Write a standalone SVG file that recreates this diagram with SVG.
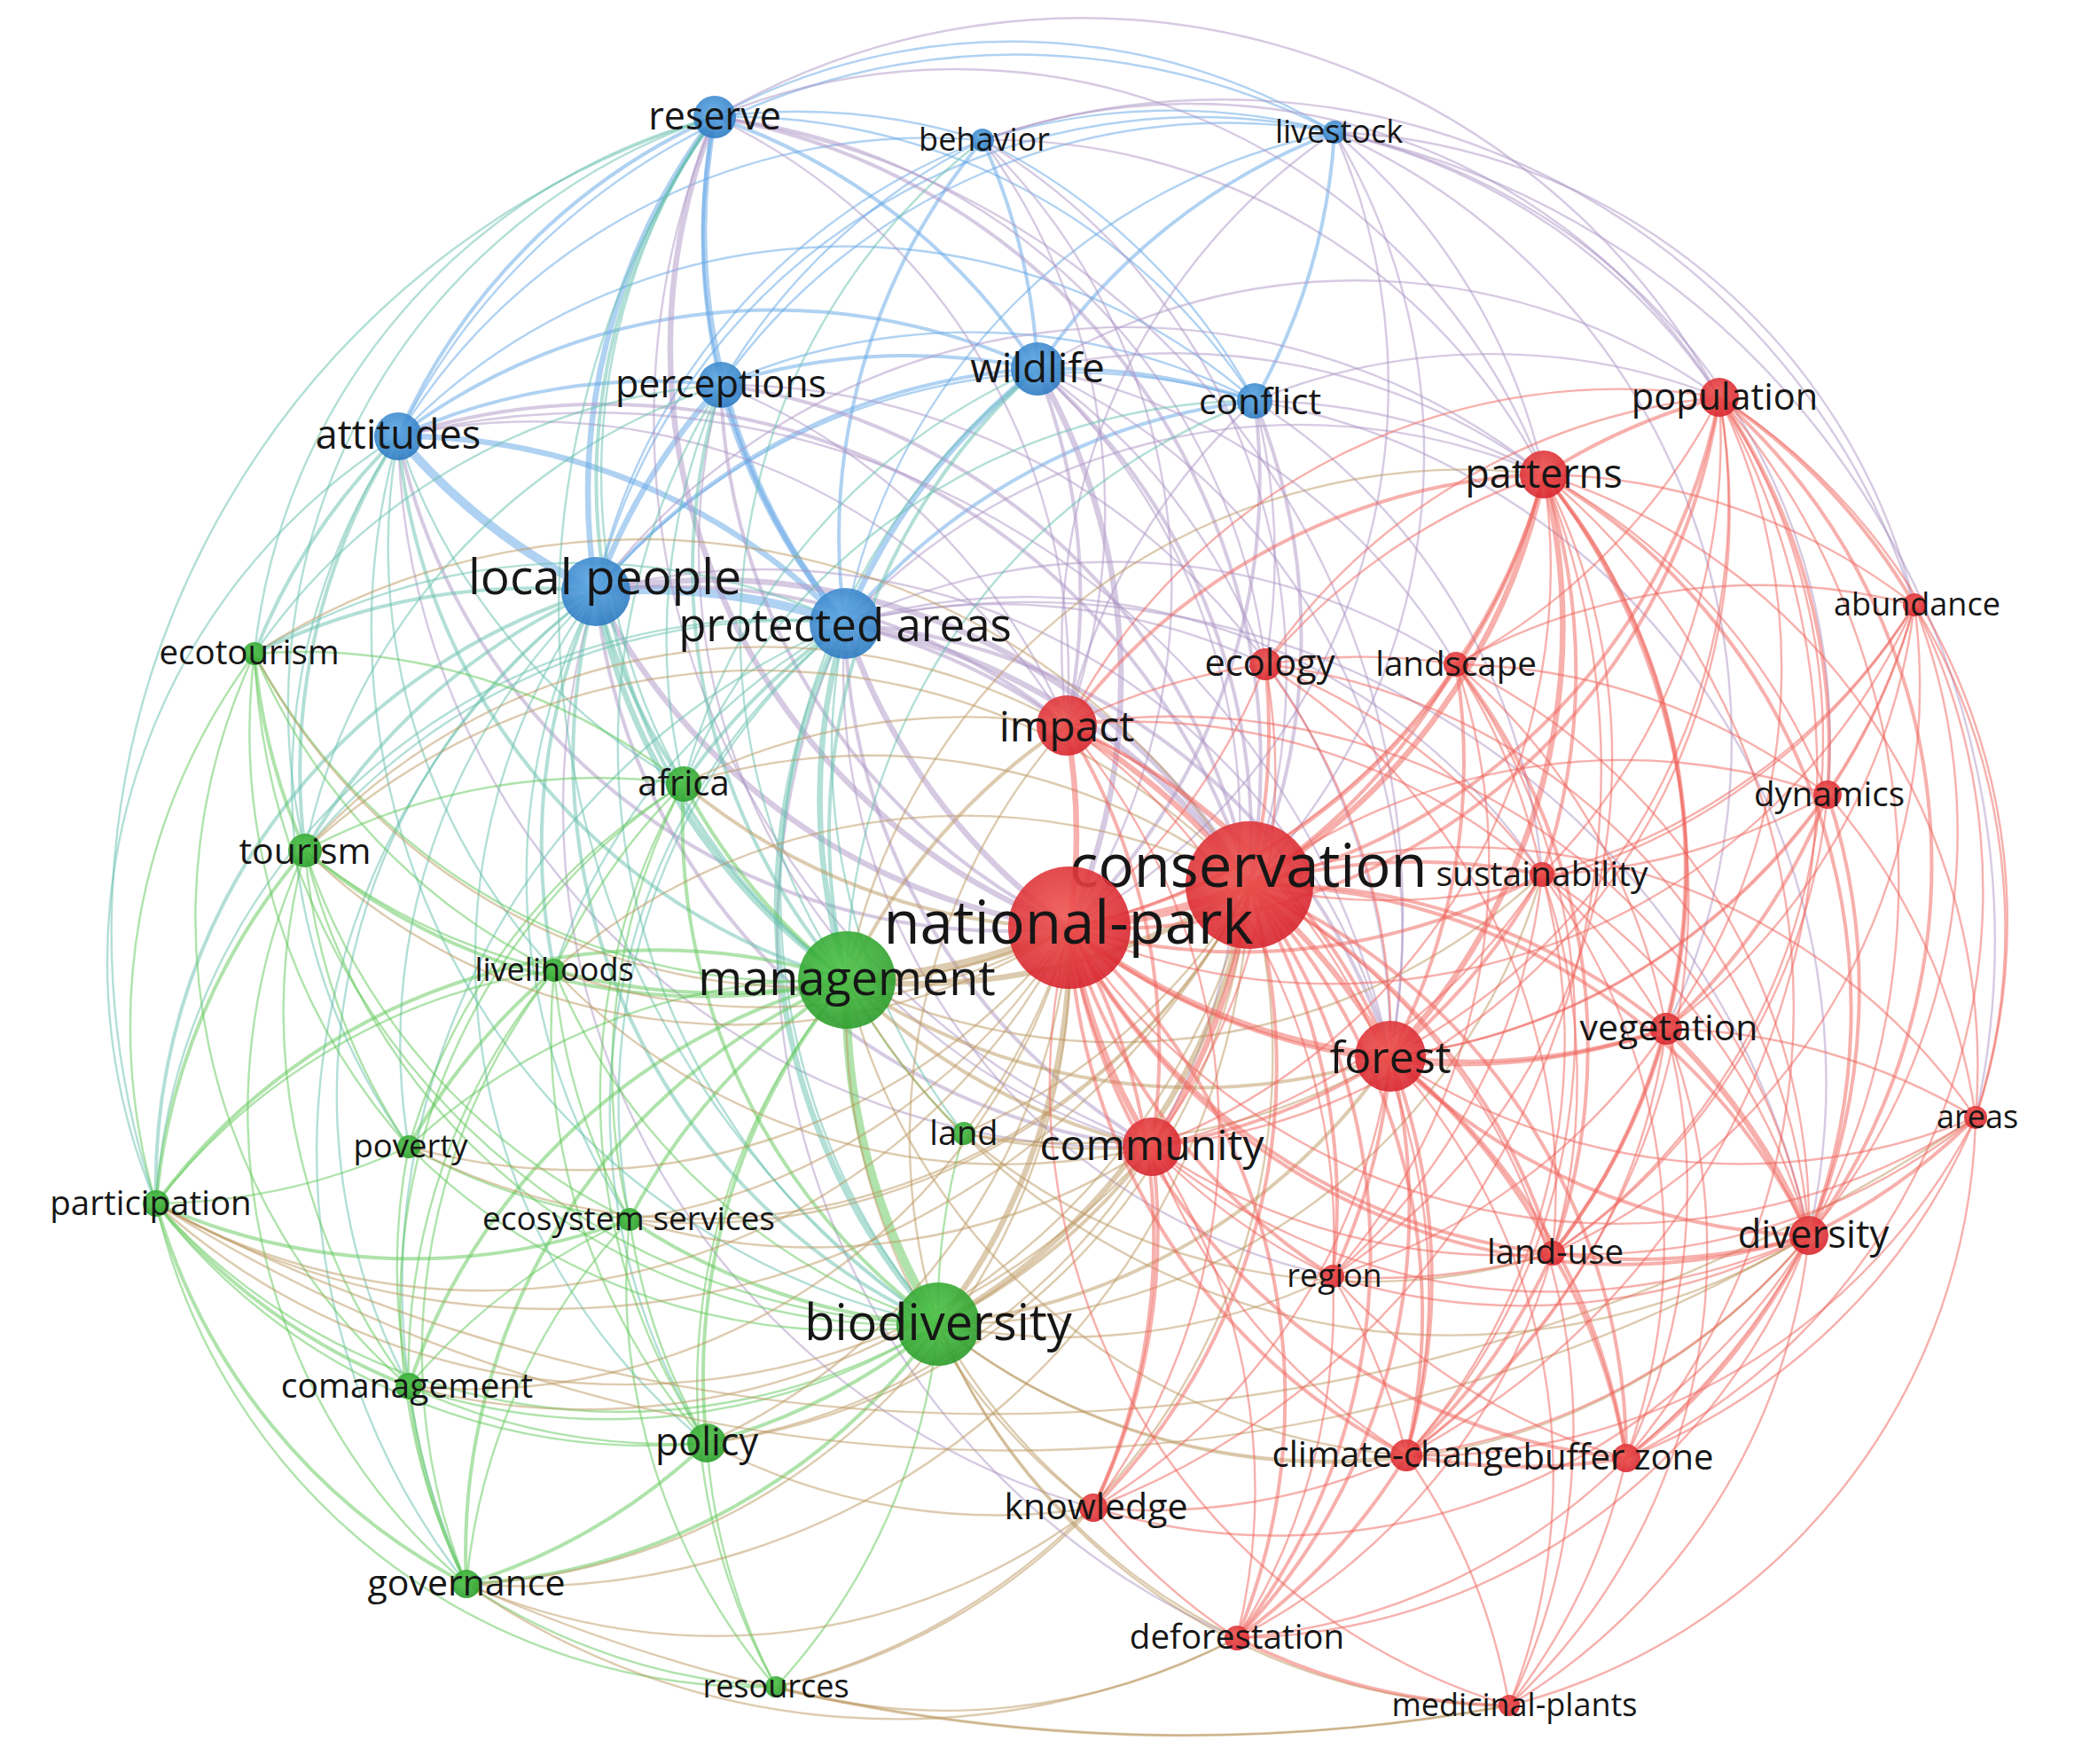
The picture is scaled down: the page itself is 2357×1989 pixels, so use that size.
<svg xmlns="http://www.w3.org/2000/svg" width="2357" height="1989" viewBox="0 0 2357 1989">
<style>
path{fill:none;stroke-opacity:.5;stroke-linecap:round}
.b1,.b2,.b3,.b4{stroke:#62a5e6}
.p1,.p2,.p3{stroke:#ad96c6}
.t1,.t2,.t3{stroke:#66bfae}
.g1,.g2,.g3,.g4{stroke:#5fc758}
.o1,.o2,.o3,.o4{stroke:#bb9760}
.r1,.r2,.r3,.r4{stroke:#f0625a}
.b1,.p1,.t1,.g1,.o1,.r1{stroke-width:2.4}
.b2,.p2,.t2,.g2,.o2,.r2{stroke-width:4}
.b3,.p3,.t3,.g3,.o3,.r3{stroke-width:6.5}
.b4,.g4,.o4,.r4{stroke-width:10}
.nb{fill:url(#gb)}.nr{fill:url(#gr)}.ng{fill:url(#gg)}
circle{fill-opacity:.9}
text{font-family:"Open Sans","Noto Sans",sans-serif;fill:#161616;text-anchor:middle}
</style>
<defs>
<radialGradient id="gb" cx="45%" cy="40%" r="60%"><stop offset="0" stop-color="#5ea8e4"/><stop offset="1" stop-color="#2f7cc3"/></radialGradient>
<radialGradient id="gr" cx="45%" cy="40%" r="60%"><stop offset="0" stop-color="#ee5550"/><stop offset="1" stop-color="#d8262f"/></radialGradient>
<radialGradient id="gg" cx="45%" cy="40%" r="60%"><stop offset="0" stop-color="#4fc44a"/><stop offset="1" stop-color="#2c9e2c"/></radialGradient>
</defs>
<rect width="2357" height="1989" fill="#fff"/>
<g id="connectors">
<path class="b1" d="M806 132A700 700 0 0 1 1108 158"/>
<path class="b1" d="M806 132A700 700 0 0 1 1505 149"/>
<path class="b2" d="M813 434A700 700 0 0 1 806 132"/>
<path class="b2" d="M806 132A700 700 0 0 1 1170 416"/>
<path class="b1" d="M806 132A700 700 0 0 1 1415 452"/>
<path class="b2" d="M449 492A700 700 0 0 1 806 132"/>
<path class="b3" d="M672 667A700 700 0 0 1 806 132"/>
<path class="b3" d="M953 703A700 700 0 0 1 806 132"/>
<path class="b1" d="M1108 158A700 700 0 0 1 1505 149"/>
<path class="b1" d="M813 434A700 700 0 0 1 1108 158"/>
<path class="b2" d="M1108 158A700 700 0 0 1 1170 416"/>
<path class="b1" d="M1108 158A700 700 0 0 1 1415 452"/>
<path class="b1" d="M449 492A700 700 0 0 1 1108 158"/>
<path class="b1" d="M672 667A700 700 0 0 1 1108 158"/>
<path class="b2" d="M953 703A700 700 0 0 1 1108 158"/>
<path class="b1" d="M813 434A700 700 0 0 1 1505 149"/>
<path class="b2" d="M1170 416A700 700 0 0 1 1505 149"/>
<path class="b2" d="M1505 149A700 700 0 0 1 1415 452"/>
<path class="b1" d="M449 492A780 780 0 0 1 1505 149"/>
<path class="b1" d="M672 667A700 700 0 0 1 1505 149"/>
<path class="b1" d="M953 703A700 700 0 0 1 1505 149"/>
<path class="b2" d="M813 434A700 700 0 0 1 1170 416"/>
<path class="b1" d="M813 434A700 700 0 0 1 1415 452"/>
<path class="b2" d="M449 492A700 700 0 0 1 813 434"/>
<path class="b3" d="M672 667A700 700 0 0 1 813 434"/>
<path class="b3" d="M953 703A700 700 0 0 1 813 434"/>
<path class="b2" d="M1170 416A700 700 0 0 1 1415 452"/>
<path class="b2" d="M449 492A700 700 0 0 1 1170 416"/>
<path class="b2" d="M672 667A700 700 0 0 1 1170 416"/>
<path class="b3" d="M953 703A700 700 0 0 1 1170 416"/>
<path class="b1" d="M449 492A700 700 0 0 1 1415 452"/>
<path class="b1" d="M672 667A700 700 0 0 1 1415 452"/>
<path class="b2" d="M953 703A700 700 0 0 1 1415 452"/>
<path class="b4" d="M672 667A700 700 0 0 1 449 492"/>
<path class="b3" d="M449 492A700 700 0 0 1 953 703"/>
<path class="b4" d="M672 667A700 700 0 0 1 953 703"/>
<path class="p3" d="M1206 1046A700 700 0 0 1 806 132"/>
<path class="p2" d="M806 132A740 740 0 0 1 1409 998"/>
<path class="p1" d="M806 132A700 700 0 0 1 1203 818"/>
<path class="p1" d="M806 132A710 710 0 0 1 1741 535"/>
<path class="p1" d="M806 132A820 820 0 0 1 1939 448"/>
<path class="p1" d="M806 132A910 910 0 0 1 1568 1191"/>
<path class="p1" d="M1299 1293A880 880 0 0 1 806 132"/>
<path class="p1" d="M806 132A700 700 0 0 1 1427 749"/>
<path class="p1" d="M1108 158A700 700 0 0 1 1206 1046"/>
<path class="p1" d="M1108 158A700 700 0 0 1 1409 998"/>
<path class="p1" d="M1108 158A700 700 0 0 1 1939 448"/>
<path class="p1" d="M1108 158A700 700 0 0 1 1741 535"/>
<path class="p1" d="M1108 158A700 700 0 0 1 1203 818"/>
<path class="p1" d="M1108 158A820 820 0 0 1 2159 682"/>
<path class="p1" d="M1505 149A700 700 0 0 1 1206 1046"/>
<path class="p1" d="M1505 149A700 700 0 0 1 1409 998"/>
<path class="p1" d="M1505 149A700 700 0 0 1 1939 448"/>
<path class="p1" d="M1505 149A700 700 0 0 1 1741 535"/>
<path class="p1" d="M1505 149A700 700 0 0 1 2159 682"/>
<path class="p1" d="M1505 149A700 700 0 0 1 2061 896"/>
<path class="p1" d="M1203 818A700 700 0 0 1 1505 149"/>
<path class="p2" d="M1206 1046A700 700 0 0 1 813 434"/>
<path class="p2" d="M813 434A700 700 0 0 1 1409 998"/>
<path class="p1" d="M813 434A700 700 0 0 1 1203 818"/>
<path class="p1" d="M1299 1293A700 700 0 0 1 813 434"/>
<path class="p1" d="M813 434A750 750 0 0 1 1568 1191"/>
<path class="p3" d="M1170 416A700 700 0 0 1 1206 1046"/>
<path class="p2" d="M1170 416A700 700 0 0 1 1409 998"/>
<path class="p2" d="M1170 416A700 700 0 0 1 1203 818"/>
<path class="p1" d="M1170 416A700 700 0 0 1 1741 535"/>
<path class="p1" d="M1170 416A700 700 0 0 1 1939 448"/>
<path class="p1" d="M1170 416A700 700 0 0 1 1427 749"/>
<path class="p1" d="M1170 416A700 700 0 0 1 1568 1191"/>
<path class="p1" d="M1170 416A700 700 0 0 1 1299 1293"/>
<path class="p1" d="M1170 416A700 700 0 0 1 1642 749"/>
<path class="p2" d="M1415 452A700 700 0 0 1 1206 1046"/>
<path class="p2" d="M1415 452A700 700 0 0 1 1409 998"/>
<path class="p1" d="M1203 818A700 700 0 0 1 1415 452"/>
<path class="p1" d="M1415 452A700 700 0 0 1 1741 535"/>
<path class="p1" d="M1415 452A700 700 0 0 1 1939 448"/>
<path class="p1" d="M1415 452A700 700 0 0 1 1427 749"/>
<path class="p1" d="M1415 452A700 700 0 0 1 1739 986"/>
<path class="p2" d="M1206 1046A700 700 0 0 1 449 492"/>
<path class="p2" d="M449 492A760 760 0 0 1 1409 998"/>
<path class="p1" d="M449 492A700 700 0 0 1 1203 818"/>
<path class="p1" d="M1299 1293A820 820 0 0 1 449 492"/>
<path class="p1" d="M449 492A920 920 0 0 1 1568 1191"/>
<path class="p3" d="M1206 1046A700 700 0 0 1 672 667"/>
<path class="p3" d="M672 667A700 700 0 0 1 1409 998"/>
<path class="p2" d="M672 667A700 700 0 0 1 1203 818"/>
<path class="p2" d="M1299 1293A700 700 0 0 1 672 667"/>
<path class="p1" d="M672 667A730 730 0 0 1 1568 1191"/>
<path class="p1" d="M672 667A750 750 0 0 1 1741 535"/>
<path class="p1" d="M1233 1700A820 820 0 0 1 672 667"/>
<path class="p3" d="M1206 1046A700 700 0 0 1 953 703"/>
<path class="p3" d="M953 703A700 700 0 0 1 1409 998"/>
<path class="p2" d="M953 703A700 700 0 0 1 1203 818"/>
<path class="p2" d="M1299 1293A700 700 0 0 1 953 703"/>
<path class="p2" d="M953 703A700 700 0 0 1 1568 1191"/>
<path class="p1" d="M953 703A700 700 0 0 1 1741 535"/>
<path class="p1" d="M953 703A700 700 0 0 1 1427 749"/>
<path class="p1" d="M953 703A700 700 0 0 1 1642 749"/>
<path class="p1" d="M953 703A700 700 0 0 1 1739 986"/>
<path class="p1" d="M953 703A900 900 0 0 1 2040 1393"/>
<path class="p1" d="M1503 1439A700 700 0 0 1 953 703"/>
<path class="p1" d="M1395 1847A860 860 0 0 1 953 703"/>
<path class="p1" d="M1505 149A930 930 0 0 1 2228 1260"/>
<path class="p1" d="M1505 149A750 750 0 0 1 1879 1160"/>
<path class="p1" d="M1415 452A780 780 0 0 1 2040 1393"/>
<path class="t2" d="M955 1105A700 700 0 0 1 806 132"/>
<path class="t1" d="M1058 1493A970 970 0 0 1 806 132"/>
<path class="t1" d="M771 884A700 700 0 0 1 806 132"/>
<path class="t1" d="M287 737A700 700 0 0 1 806 132"/>
<path class="t1" d="M344 959A700 700 0 0 1 806 132"/>
<path class="t1" d="M176 1357A960 960 0 0 1 806 132"/>
<path class="t1" d="M955 1105A700 700 0 0 1 1108 158"/>
<path class="t2" d="M955 1105A700 700 0 0 1 1170 416"/>
<path class="t1" d="M1058 1493A750 750 0 0 1 1170 416"/>
<path class="t1" d="M771 884A700 700 0 0 1 1170 416"/>
<path class="t2" d="M955 1105A700 700 0 0 1 813 434"/>
<path class="t1" d="M771 884A700 700 0 0 1 813 434"/>
<path class="t1" d="M287 737A700 700 0 0 1 813 434"/>
<path class="t1" d="M344 959A700 700 0 0 1 813 434"/>
<path class="t1" d="M1058 1493A770 770 0 0 1 813 434"/>
<path class="t1" d="M955 1105A700 700 0 0 1 1415 452"/>
<path class="t1" d="M771 884A700 700 0 0 1 1415 452"/>
<path class="t2" d="M287 737A700 700 0 0 1 449 492"/>
<path class="t2" d="M344 959A700 700 0 0 1 449 492"/>
<path class="t2" d="M955 1105A700 700 0 0 1 449 492"/>
<path class="t1" d="M771 884A700 700 0 0 1 449 492"/>
<path class="t1" d="M625 1094A700 700 0 0 1 449 492"/>
<path class="t1" d="M176 1357A700 700 0 0 1 449 492"/>
<path class="t1" d="M1058 1493A800 800 0 0 1 449 492"/>
<path class="t1" d="M461 1293A700 700 0 0 1 449 492"/>
<path class="t2" d="M287 737A700 700 0 0 1 672 667"/>
<path class="t2" d="M344 959A700 700 0 0 1 672 667"/>
<path class="t2" d="M771 884A700 700 0 0 1 672 667"/>
<path class="t3" d="M955 1105A700 700 0 0 1 672 667"/>
<path class="t2" d="M1058 1493A700 700 0 0 1 672 667"/>
<path class="t2" d="M625 1094A700 700 0 0 1 672 667"/>
<path class="t2" d="M176 1357A700 700 0 0 1 672 667"/>
<path class="t1" d="M461 1293A700 700 0 0 1 672 667"/>
<path class="t1" d="M710 1375A700 700 0 0 1 672 667"/>
<path class="t1" d="M797 1627A700 700 0 0 1 672 667"/>
<path class="t1" d="M461 1563A700 700 0 0 1 672 667"/>
<path class="t1" d="M526 1786A790 790 0 0 1 672 667"/>
<path class="t2" d="M771 884A700 700 0 0 1 953 703"/>
<path class="t3" d="M955 1105A700 700 0 0 1 953 703"/>
<path class="t3" d="M1058 1493A700 700 0 0 1 953 703"/>
<path class="t1" d="M287 737A700 700 0 0 1 953 703"/>
<path class="t1" d="M344 959A700 700 0 0 1 953 703"/>
<path class="t1" d="M625 1094A700 700 0 0 1 953 703"/>
<path class="t1" d="M710 1375A700 700 0 0 1 953 703"/>
<path class="t1" d="M797 1627A700 700 0 0 1 953 703"/>
<path class="t1" d="M526 1786A810 810 0 0 1 953 703"/>
<path class="t1" d="M1087 1278A700 700 0 0 1 953 703"/>
<path class="t1" d="M176 1357A700 700 0 0 1 953 703"/>
<path class="g2" d="M344 959A700 700 0 0 1 287 737"/>
<path class="g1" d="M287 737A700 700 0 0 1 771 884"/>
<path class="g1" d="M625 1094A700 700 0 0 1 287 737"/>
<path class="g1" d="M955 1105A700 700 0 0 1 287 737"/>
<path class="g1" d="M176 1357A700 700 0 0 1 287 737"/>
<path class="g1" d="M461 1293A700 700 0 0 1 287 737"/>
<path class="g1" d="M1058 1493A790 790 0 0 1 287 737"/>
<path class="g1" d="M461 1563A700 700 0 0 1 287 737"/>
<path class="g1" d="M344 959A700 700 0 0 1 771 884"/>
<path class="g1" d="M625 1094A700 700 0 0 1 771 884"/>
<path class="g2" d="M955 1105A700 700 0 0 1 771 884"/>
<path class="g2" d="M1058 1493A700 700 0 0 1 771 884"/>
<path class="g1" d="M461 1293A700 700 0 0 1 771 884"/>
<path class="g1" d="M710 1375A700 700 0 0 1 771 884"/>
<path class="g1" d="M797 1627A700 700 0 0 1 771 884"/>
<path class="g1" d="M526 1786A700 700 0 0 1 771 884"/>
<path class="g1" d="M625 1094A700 700 0 0 1 344 959"/>
<path class="g2" d="M955 1105A700 700 0 0 1 344 959"/>
<path class="g2" d="M176 1357A700 700 0 0 1 344 959"/>
<path class="g1" d="M461 1293A700 700 0 0 1 344 959"/>
<path class="g1" d="M1058 1493A700 700 0 0 1 344 959"/>
<path class="g1" d="M461 1563A700 700 0 0 1 344 959"/>
<path class="g1" d="M710 1375A700 700 0 0 1 344 959"/>
<path class="g1" d="M526 1786A700 700 0 0 1 344 959"/>
<path class="g2" d="M955 1105A700 700 0 0 1 625 1094"/>
<path class="g2" d="M461 1293A700 700 0 0 1 625 1094"/>
<path class="g1" d="M710 1375A700 700 0 0 1 625 1094"/>
<path class="g1" d="M1058 1493A700 700 0 0 1 625 1094"/>
<path class="g1" d="M176 1357A700 700 0 0 1 625 1094"/>
<path class="g1" d="M797 1627A700 700 0 0 1 625 1094"/>
<path class="g1" d="M526 1786A700 700 0 0 1 625 1094"/>
<path class="g1" d="M461 1563A700 700 0 0 1 625 1094"/>
<path class="g4" d="M1058 1493A700 700 0 0 1 955 1105"/>
<path class="g2" d="M176 1357A700 700 0 0 1 955 1105"/>
<path class="g2" d="M710 1375A700 700 0 0 1 955 1105"/>
<path class="g2" d="M797 1627A700 700 0 0 1 955 1105"/>
<path class="g2" d="M526 1786A700 700 0 0 1 955 1105"/>
<path class="g2" d="M461 1563A700 700 0 0 1 955 1105"/>
<path class="g1" d="M1087 1278A700 700 0 0 1 955 1105"/>
<path class="g1" d="M875 1902A700 700 0 0 1 955 1105"/>
<path class="g1" d="M461 1293A700 700 0 0 1 955 1105"/>
<path class="g1" d="M461 1293A700 700 0 0 1 176 1357"/>
<path class="g1" d="M710 1375A700 700 0 0 1 461 1293"/>
<path class="g1" d="M1058 1493A700 700 0 0 1 461 1293"/>
<path class="g1" d="M461 1563A700 700 0 0 1 461 1293"/>
<path class="g2" d="M710 1375A700 700 0 0 1 176 1357"/>
<path class="g2" d="M461 1563A700 700 0 0 1 176 1357"/>
<path class="g2" d="M526 1786A700 700 0 0 1 176 1357"/>
<path class="g1" d="M1058 1493A700 700 0 0 1 176 1357"/>
<path class="g1" d="M797 1627A700 700 0 0 1 176 1357"/>
<path class="g2" d="M1058 1493A700 700 0 0 1 710 1375"/>
<path class="g1" d="M797 1627A700 700 0 0 1 710 1375"/>
<path class="g1" d="M526 1786A700 700 0 0 1 710 1375"/>
<path class="g1" d="M461 1563A700 700 0 0 1 710 1375"/>
<path class="g1" d="M875 1902A700 700 0 0 1 710 1375"/>
<path class="g2" d="M1058 1493A700 700 0 0 1 797 1627"/>
<path class="g2" d="M1058 1493A700 700 0 0 1 526 1786"/>
<path class="g1" d="M1058 1493A700 700 0 0 1 461 1563"/>
<path class="g1" d="M1058 1493A700 700 0 0 1 875 1902"/>
<path class="g1" d="M1058 1493A700 700 0 0 1 1087 1278"/>
<path class="g2" d="M526 1786A700 700 0 0 1 461 1563"/>
<path class="g1" d="M797 1627A700 700 0 0 1 461 1563"/>
<path class="g2" d="M797 1627A700 700 0 0 1 526 1786"/>
<path class="g1" d="M875 1902A700 700 0 0 1 797 1627"/>
<path class="g1" d="M875 1902A700 700 0 0 1 526 1786"/>
<path class="g1" d="M875 1902A700 700 0 0 1 176 1357"/>
<path class="o4" d="M1206 1046A700 700 0 0 1 955 1105"/>
<path class="o3" d="M1409 998A700 700 0 0 1 955 1105"/>
<path class="o2" d="M955 1105A700 700 0 0 1 1203 818"/>
<path class="o2" d="M1299 1293A700 700 0 0 1 955 1105"/>
<path class="o2" d="M1568 1191A700 700 0 0 1 955 1105"/>
<path class="o1" d="M1233 1700A700 700 0 0 1 955 1105"/>
<path class="o1" d="M1739 986A700 700 0 0 1 955 1105"/>
<path class="o1" d="M955 1105A710 710 0 0 1 1741 535"/>
<path class="o1" d="M2040 1393A780 780 0 0 1 955 1105"/>
<path class="o1" d="M1586 1641A700 700 0 0 1 955 1105"/>
<path class="o3" d="M1206 1046A700 700 0 0 1 1058 1493"/>
<path class="o3" d="M1409 998A700 700 0 0 1 1058 1493"/>
<path class="o2" d="M1299 1293A700 700 0 0 1 1058 1493"/>
<path class="o2" d="M1568 1191A700 700 0 0 1 1058 1493"/>
<path class="o1" d="M1233 1700A700 700 0 0 1 1058 1493"/>
<path class="o1" d="M1586 1641A700 700 0 0 1 1058 1493"/>
<path class="o1" d="M1395 1847A700 700 0 0 1 1058 1493"/>
<path class="o1" d="M2040 1393A700 700 0 0 1 1058 1493"/>
<path class="o1" d="M1058 1493A700 700 0 0 1 1203 818"/>
<path class="o1" d="M1503 1439A700 700 0 0 1 1058 1493"/>
<path class="o1" d="M1739 986A700 700 0 0 1 1058 1493"/>
<path class="o1" d="M1702 1923A700 700 0 0 1 1058 1493"/>
<path class="o2" d="M1206 1046A700 700 0 0 1 771 884"/>
<path class="o1" d="M771 884A700 700 0 0 1 1409 998"/>
<path class="o1" d="M771 884A700 700 0 0 1 1203 818"/>
<path class="o1" d="M1206 1046A700 700 0 0 1 287 737"/>
<path class="o1" d="M287 737A800 800 0 0 1 1409 998"/>
<path class="o1" d="M1206 1046A700 700 0 0 1 344 959"/>
<path class="o1" d="M344 959A750 750 0 0 1 1409 998"/>
<path class="o1" d="M344 959A700 700 0 0 1 1203 818"/>
<path class="o1" d="M1206 1046A700 700 0 0 1 625 1094"/>
<path class="o1" d="M625 1094A700 700 0 0 1 1409 998"/>
<path class="o1" d="M1299 1293A700 700 0 0 1 625 1094"/>
<path class="o1" d="M1409 998A700 700 0 0 1 461 1293"/>
<path class="o1" d="M1206 1046A700 700 0 0 1 461 1293"/>
<path class="o1" d="M1409 998A890 890 0 0 1 176 1357"/>
<path class="o1" d="M1206 1046A740 740 0 0 1 176 1357"/>
<path class="o1" d="M1299 1293A790 790 0 0 1 176 1357"/>
<path class="o1" d="M2228 1260A2000 2000 0 0 1 176 1357"/>
<path class="o1" d="M2040 1393A1800 1800 0 0 1 176 1357"/>
<path class="o1" d="M1409 998A700 700 0 0 1 710 1375"/>
<path class="o1" d="M1206 1046A700 700 0 0 1 710 1375"/>
<path class="o1" d="M1299 1293A700 700 0 0 1 710 1375"/>
<path class="o1" d="M1206 1046A700 700 0 0 1 797 1627"/>
<path class="o1" d="M1409 998A700 700 0 0 1 797 1627"/>
<path class="o1" d="M1299 1293A700 700 0 0 1 797 1627"/>
<path class="o1" d="M1233 1700A700 700 0 0 1 797 1627"/>
<path class="o1" d="M1409 998A820 820 0 0 1 526 1786"/>
<path class="o1" d="M1206 1046A710 710 0 0 1 526 1786"/>
<path class="o1" d="M1395 1847A850 850 0 0 1 526 1786"/>
<path class="o1" d="M1233 1700A700 700 0 0 1 526 1786"/>
<path class="o1" d="M1206 1046A700 700 0 0 1 461 1563"/>
<path class="o1" d="M1409 998A770 770 0 0 1 461 1563"/>
<path class="o1" d="M1409 998A730 730 0 0 1 875 1902"/>
<path class="o1" d="M1395 1847A700 700 0 0 1 875 1902"/>
<path class="o1" d="M1233 1700A700 700 0 0 1 875 1902"/>
<path class="o1" d="M1702 1923A2000 2000 0 0 1 875 1902"/>
<path class="o1" d="M1206 1046A700 700 0 0 1 1087 1278"/>
<path class="o1" d="M1409 998A700 700 0 0 1 1087 1278"/>
<path class="o1" d="M1568 1191A700 700 0 0 1 1087 1278"/>
<path class="o1" d="M1299 1293A700 700 0 0 1 1087 1278"/>
<path class="o1" d="M1751 1413A700 700 0 0 1 1087 1278"/>
<path class="o1" d="M1702 1923A2000 2000 0 0 1 526 1786"/>
<path class="r2" d="M1741 535A700 700 0 0 1 1939 448"/>
<path class="r2" d="M1939 448A700 700 0 0 1 2159 682"/>
<path class="r1" d="M1427 749A700 700 0 0 1 1939 448"/>
<path class="r1" d="M1939 448A700 700 0 0 1 1642 749"/>
<path class="r1" d="M1203 818A700 700 0 0 1 1939 448"/>
<path class="r2" d="M1939 448A700 700 0 0 1 2061 896"/>
<path class="r2" d="M1939 448A700 700 0 0 1 1409 998"/>
<path class="r1" d="M1939 448A700 700 0 0 1 1739 986"/>
<path class="r2" d="M1939 448A700 700 0 0 1 1206 1046"/>
<path class="r1" d="M1939 448A700 700 0 0 1 1879 1160"/>
<path class="r1" d="M1939 448A700 700 0 0 1 1568 1191"/>
<path class="r1" d="M1939 448A700 700 0 0 1 2228 1260"/>
<path class="r2" d="M1939 448A700 700 0 0 1 2040 1393"/>
<path class="r1" d="M1939 448A700 700 0 0 1 1751 1413"/>
<path class="r1" d="M1939 448A840 840 0 0 1 1834 1644"/>
<path class="r1" d="M1939 448A720 720 0 0 1 1299 1293"/>
<path class="r1" d="M1939 448A870 870 0 0 1 1586 1641"/>
<path class="r1" d="M1741 535A700 700 0 0 1 2159 682"/>
<path class="r1" d="M1427 749A700 700 0 0 1 1741 535"/>
<path class="r2" d="M1741 535A700 700 0 0 1 1642 749"/>
<path class="r2" d="M1203 818A700 700 0 0 1 1741 535"/>
<path class="r1" d="M1741 535A700 700 0 0 1 2061 896"/>
<path class="r3" d="M1741 535A700 700 0 0 1 1409 998"/>
<path class="r2" d="M1741 535A700 700 0 0 1 1739 986"/>
<path class="r2" d="M1741 535A700 700 0 0 1 1206 1046"/>
<path class="r2" d="M1741 535A700 700 0 0 1 1879 1160"/>
<path class="r3" d="M1741 535A700 700 0 0 1 1568 1191"/>
<path class="r1" d="M1741 535A700 700 0 0 1 2228 1260"/>
<path class="r2" d="M1741 535A700 700 0 0 1 2040 1393"/>
<path class="r2" d="M1741 535A700 700 0 0 1 1751 1413"/>
<path class="r1" d="M1741 535A700 700 0 0 1 1503 1439"/>
<path class="r1" d="M1741 535A780 780 0 0 1 1586 1641"/>
<path class="r1" d="M1741 535A780 780 0 0 1 1834 1644"/>
<path class="r1" d="M1741 535A700 700 0 0 1 1299 1293"/>
<path class="r1" d="M1741 535A890 890 0 0 1 1233 1700"/>
<path class="r1" d="M2159 682A700 700 0 0 1 2061 896"/>
<path class="r1" d="M2159 682A700 700 0 0 1 1409 998"/>
<path class="r1" d="M2159 682A700 700 0 0 1 1739 986"/>
<path class="r1" d="M2159 682A700 700 0 0 1 1879 1160"/>
<path class="r1" d="M2159 682A700 700 0 0 1 1568 1191"/>
<path class="r1" d="M2159 682A700 700 0 0 1 2228 1260"/>
<path class="r1" d="M2159 682A700 700 0 0 1 2040 1393"/>
<path class="r1" d="M2159 682A700 700 0 0 1 1751 1413"/>
<path class="r1" d="M2159 682A710 710 0 0 1 1834 1644"/>
<path class="r1" d="M1642 749A700 700 0 0 1 2159 682"/>
<path class="r1" d="M2159 682A720 720 0 0 1 1206 1046"/>
<path class="r1" d="M1427 749A700 700 0 0 1 1642 749"/>
<path class="r1" d="M1203 818A700 700 0 0 1 1427 749"/>
<path class="r2" d="M1427 749A700 700 0 0 1 1409 998"/>
<path class="r1" d="M1427 749A700 700 0 0 1 1206 1046"/>
<path class="r1" d="M1427 749A700 700 0 0 1 1568 1191"/>
<path class="r1" d="M1427 749A700 700 0 0 1 2040 1393"/>
<path class="r1" d="M1427 749A700 700 0 0 1 1739 986"/>
<path class="r1" d="M1427 749A700 700 0 0 1 1299 1293"/>
<path class="r1" d="M1427 749A700 700 0 0 1 1751 1413"/>
<path class="r2" d="M1642 749A700 700 0 0 1 1409 998"/>
<path class="r1" d="M1642 749A700 700 0 0 1 1206 1046"/>
<path class="r2" d="M1642 749A700 700 0 0 1 1568 1191"/>
<path class="r1" d="M1642 749A700 700 0 0 1 1739 986"/>
<path class="r2" d="M1642 749A700 700 0 0 1 1751 1413"/>
<path class="r1" d="M1642 749A700 700 0 0 1 1879 1160"/>
<path class="r1" d="M1642 749A700 700 0 0 1 2040 1393"/>
<path class="r1" d="M1642 749A700 700 0 0 1 2061 896"/>
<path class="r1" d="M1642 749A700 700 0 0 1 1503 1439"/>
<path class="r1" d="M1642 749A700 700 0 0 1 1586 1641"/>
<path class="r3" d="M1203 818A700 700 0 0 1 1409 998"/>
<path class="r3" d="M1203 818A700 700 0 0 1 1206 1046"/>
<path class="r2" d="M1203 818A700 700 0 0 1 1568 1191"/>
<path class="r2" d="M1203 818A700 700 0 0 1 1299 1293"/>
<path class="r1" d="M1203 818A700 700 0 0 1 1739 986"/>
<path class="r1" d="M1203 818A700 700 0 0 1 1233 1700"/>
<path class="r1" d="M1203 818A700 700 0 0 1 1503 1439"/>
<path class="r1" d="M1203 818A730 730 0 0 1 2040 1393"/>
<path class="r1" d="M1203 818A700 700 0 0 1 1586 1641"/>
<path class="r1" d="M1409 998A700 700 0 0 1 2061 896"/>
<path class="r2" d="M1409 998A700 700 0 0 1 1739 986"/>
<path class="r2" d="M1409 998A700 700 0 0 1 1879 1160"/>
<path class="r3" d="M1409 998A700 700 0 0 1 1568 1191"/>
<path class="r1" d="M1409 998A700 700 0 0 1 2228 1260"/>
<path class="r3" d="M1409 998A700 700 0 0 1 1299 1293"/>
<path class="r2" d="M1409 998A700 700 0 0 1 2040 1393"/>
<path class="r2" d="M1409 998A700 700 0 0 1 1751 1413"/>
<path class="r2" d="M1409 998A700 700 0 0 1 1503 1439"/>
<path class="r2" d="M1409 998A700 700 0 0 1 1586 1641"/>
<path class="r2" d="M1409 998A700 700 0 0 1 1834 1644"/>
<path class="r2" d="M1409 998A700 700 0 0 1 1233 1700"/>
<path class="r2" d="M1409 998A700 700 0 0 1 1395 1847"/>
<path class="r1" d="M1409 998A700 700 0 0 1 1702 1923"/>
<path class="r1" d="M2061 896A700 700 0 0 1 1739 986"/>
<path class="r2" d="M2061 896A700 700 0 0 1 1879 1160"/>
<path class="r1" d="M2061 896A700 700 0 0 1 1568 1191"/>
<path class="r1" d="M2061 896A700 700 0 0 1 2228 1260"/>
<path class="r2" d="M2061 896A700 700 0 0 1 2040 1393"/>
<path class="r1" d="M2061 896A700 700 0 0 1 1751 1413"/>
<path class="r2" d="M1739 986A700 700 0 0 1 1206 1046"/>
<path class="r2" d="M1739 986A700 700 0 0 1 1568 1191"/>
<path class="r1" d="M1739 986A700 700 0 0 1 1879 1160"/>
<path class="r1" d="M1739 986A700 700 0 0 1 2040 1393"/>
<path class="r1" d="M1739 986A700 700 0 0 1 1751 1413"/>
<path class="r1" d="M1739 986A700 700 0 0 1 1299 1293"/>
<path class="r1" d="M1739 986A700 700 0 0 1 1503 1439"/>
<path class="r1" d="M1739 986A700 700 0 0 1 1586 1641"/>
<path class="r1" d="M1739 986A700 700 0 0 1 1834 1644"/>
<path class="r4" d="M1409 998A700 700 0 0 1 1206 1046"/>
<path class="r2" d="M1879 1160A700 700 0 0 1 1206 1046"/>
<path class="r3" d="M1568 1191A700 700 0 0 1 1206 1046"/>
<path class="r3" d="M1299 1293A700 700 0 0 1 1206 1046"/>
<path class="r2" d="M2040 1393A700 700 0 0 1 1206 1046"/>
<path class="r2" d="M1751 1413A700 700 0 0 1 1206 1046"/>
<path class="r2" d="M1503 1439A700 700 0 0 1 1206 1046"/>
<path class="r2" d="M1586 1641A700 700 0 0 1 1206 1046"/>
<path class="r2" d="M1834 1644A700 700 0 0 1 1206 1046"/>
<path class="r2" d="M1206 1046A700 700 0 0 1 1233 1700"/>
<path class="r2" d="M1206 1046A700 700 0 0 1 1395 1847"/>
<path class="r1" d="M1702 1923A730 730 0 0 1 1206 1046"/>
<path class="r1" d="M2228 1260A740 740 0 0 1 1206 1046"/>
<path class="r2" d="M1879 1160A700 700 0 0 1 1568 1191"/>
<path class="r1" d="M1879 1160A700 700 0 0 1 2228 1260"/>
<path class="r3" d="M1879 1160A700 700 0 0 1 2040 1393"/>
<path class="r2" d="M1879 1160A700 700 0 0 1 1751 1413"/>
<path class="r1" d="M1879 1160A700 700 0 0 1 1834 1644"/>
<path class="r1" d="M1879 1160A700 700 0 0 1 1586 1641"/>
<path class="r1" d="M1879 1160A700 700 0 0 1 1702 1923"/>
<path class="r1" d="M1879 1160A700 700 0 0 1 1503 1439"/>
<path class="r1" d="M2228 1260A700 700 0 0 1 1568 1191"/>
<path class="r2" d="M1568 1191A700 700 0 0 1 1299 1293"/>
<path class="r2" d="M2040 1393A700 700 0 0 1 1568 1191"/>
<path class="r2" d="M1568 1191A700 700 0 0 1 1751 1413"/>
<path class="r2" d="M1568 1191A700 700 0 0 1 1503 1439"/>
<path class="r2" d="M1568 1191A700 700 0 0 1 1586 1641"/>
<path class="r2" d="M1568 1191A700 700 0 0 1 1834 1644"/>
<path class="r2" d="M1568 1191A700 700 0 0 1 1395 1847"/>
<path class="r1" d="M1568 1191A700 700 0 0 1 1233 1700"/>
<path class="r1" d="M1568 1191A700 700 0 0 1 1702 1923"/>
<path class="r2" d="M2228 1260A700 700 0 0 1 2040 1393"/>
<path class="r1" d="M2228 1260A700 700 0 0 1 1751 1413"/>
<path class="r1" d="M2228 1260A700 700 0 0 1 1834 1644"/>
<path class="r1" d="M2228 1260A700 700 0 0 1 1702 1923"/>
<path class="r1" d="M2228 1260A700 700 0 0 1 1586 1641"/>
<path class="r1" d="M2040 1393A700 700 0 0 1 1299 1293"/>
<path class="r1" d="M1503 1439A700 700 0 0 1 1299 1293"/>
<path class="r1" d="M1586 1641A700 700 0 0 1 1299 1293"/>
<path class="r2" d="M1299 1293A700 700 0 0 1 1233 1700"/>
<path class="r1" d="M1299 1293A700 700 0 0 1 1395 1847"/>
<path class="r1" d="M1751 1413A700 700 0 0 1 1299 1293"/>
<path class="r2" d="M2040 1393A700 700 0 0 1 1751 1413"/>
<path class="r2" d="M2040 1393A700 700 0 0 1 1834 1644"/>
<path class="r1" d="M2040 1393A700 700 0 0 1 1586 1641"/>
<path class="r1" d="M2040 1393A700 700 0 0 1 1702 1923"/>
<path class="r1" d="M2040 1393A700 700 0 0 1 1503 1439"/>
<path class="r1" d="M2040 1393A700 700 0 0 1 1233 1700"/>
<path class="r1" d="M2040 1393A700 700 0 0 1 1395 1847"/>
<path class="r1" d="M1751 1413A700 700 0 0 1 1503 1439"/>
<path class="r2" d="M1751 1413A700 700 0 0 1 1586 1641"/>
<path class="r2" d="M1751 1413A700 700 0 0 1 1834 1644"/>
<path class="r1" d="M1751 1413A700 700 0 0 1 1395 1847"/>
<path class="r1" d="M1503 1439A700 700 0 0 1 1586 1641"/>
<path class="r1" d="M1503 1439A700 700 0 0 1 1395 1847"/>
<path class="r1" d="M1834 1644A700 700 0 0 1 1503 1439"/>
<path class="r2" d="M1834 1644A700 700 0 0 1 1586 1641"/>
<path class="r2" d="M1586 1641A700 700 0 0 1 1395 1847"/>
<path class="r1" d="M1586 1641A700 700 0 0 1 1702 1923"/>
<path class="r1" d="M1586 1641A700 700 0 0 1 1233 1700"/>
<path class="r1" d="M1834 1644A700 700 0 0 1 1395 1847"/>
<path class="r1" d="M1834 1644A700 700 0 0 1 1702 1923"/>
<path class="r1" d="M1395 1847A700 700 0 0 1 1233 1700"/>
<path class="r2" d="M1702 1923A700 700 0 0 1 1395 1847"/>
</g>
<g id="node-conservation"><circle class="nr" cx="1409" cy="998" r="72"/><text x="1408" y="1000" font-size="67">conservation</text></g>
<g id="node-national-park"><circle class="nr" cx="1206" cy="1046" r="69"/><text x="1205" y="1064" font-size="67">national-park</text></g>
<g id="node-management"><circle class="ng" cx="955" cy="1105" r="55"/><text x="955" y="1122" font-size="54">management</text></g>
<g id="node-biodiversity"><circle class="ng" cx="1058" cy="1493" r="47"/><text x="1058" y="1511" font-size="56">biodiversity</text></g>
<g id="node-protected-areas"><circle class="nb" cx="953" cy="703" r="40"/><text x="953" y="723" font-size="51">protected areas</text></g>
<g id="node-forest"><circle class="nr" cx="1568" cy="1191" r="40"/><text x="1568" y="1210" font-size="50">forest</text></g>
<g id="node-local-people"><circle class="nb" cx="672" cy="667" r="39"/><text x="682" y="670" font-size="55">local people</text></g>
<g id="node-impact"><circle class="nr" cx="1203" cy="818" r="34"/><text x="1203" y="836" font-size="48">impact</text></g>
<g id="node-community"><circle class="nr" cx="1299" cy="1293" r="33"/><text x="1299" y="1308" font-size="48">community</text></g>
<g id="node-wildlife"><circle class="nb" cx="1170" cy="416" r="30"/><text x="1170" y="431" font-size="46">wildlife</text></g>
<g id="node-patterns"><circle class="nr" cx="1741" cy="535" r="27"/><text x="1741" y="550" font-size="45">patterns</text></g>
<g id="node-attitudes"><circle class="nb" cx="449" cy="492" r="27"/><text x="449" y="506" font-size="45">attitudes</text></g>
<g id="node-perceptions"><circle class="nb" cx="813" cy="434" r="26"/><text x="813" y="448" font-size="43">perceptions</text></g>
<g id="node-reserve"><circle class="nb" cx="806" cy="132" r="24"/><text x="806" y="146" font-size="43">reserve</text></g>
<g id="node-population"><circle class="nr" cx="1939" cy="448" r="22"/><text x="1945" y="462" font-size="41.5">population</text></g>
<g id="node-diversity"><circle class="nr" cx="2040" cy="1393" r="22"/><text x="2045" y="1407" font-size="43.5">diversity</text></g>
<g id="node-policy"><circle class="ng" cx="797" cy="1627" r="22"/><text x="797" y="1641" font-size="43">policy</text></g>
<g id="node-conflict"><circle class="nb" cx="1415" cy="452" r="20"/><text x="1421" y="467" font-size="41">conflict</text></g>
<g id="node-africa"><circle class="ng" cx="771" cy="884" r="20"/><text x="771" y="897" font-size="40">africa</text></g>
<g id="node-tourism"><circle class="ng" cx="344" cy="959" r="19"/><text x="344" y="974" font-size="41">tourism</text></g>
<g id="node-ecology"><circle class="nr" cx="1427" cy="749" r="18"/><text x="1432" y="762" font-size="41.5">ecology</text></g>
<g id="node-vegetation"><circle class="nr" cx="1879" cy="1160" r="18"/><text x="1882" y="1173" font-size="41">vegetation</text></g>
<g id="node-climate-change"><circle class="nr" cx="1586" cy="1641" r="18"/><text x="1576" y="1654" font-size="40">climate-change</text></g>
<g id="node-governance"><circle class="ng" cx="526" cy="1786" r="16"/><text x="526" y="1799" font-size="41">governance</text></g>
<g id="node-knowledge"><circle class="nr" cx="1233" cy="1700" r="16"/><text x="1236" y="1713" font-size="41">knowledge</text></g>
<g id="node-buffer-zone"><circle class="nr" cx="1834" cy="1644" r="16"/><text x="1825" y="1657" font-size="40">buffer zone</text></g>
<g id="node-dynamics"><circle class="nr" cx="2061" cy="896" r="16"/><text x="2063" y="909" font-size="38.5">dynamics</text></g>
<g id="node-participation"><circle class="ng" cx="176" cy="1357" r="15"/><text x="170" y="1370" font-size="38.5">participation</text></g>
<g id="node-comanagement"><circle class="ng" cx="461" cy="1563" r="15"/><text x="459" y="1576" font-size="39">comanagement</text></g>
<g id="node-landscape"><circle class="nr" cx="1642" cy="749" r="14"/><text x="1642" y="762" font-size="38.5">landscape</text></g>
<g id="node-sustainability"><circle class="nr" cx="1739" cy="986" r="14"/><text x="1739" y="999" font-size="39">sustainability</text></g>
<g id="node-deforestation"><circle class="nr" cx="1395" cy="1847" r="14"/><text x="1395" y="1859" font-size="38.5">deforestation</text></g>
<g id="node-land-use"><circle class="nr" cx="1751" cy="1413" r="14"/><text x="1754" y="1425" font-size="38.5">land-use</text></g>
<g id="node-ecotourism"><circle class="ng" cx="287" cy="737" r="13"/><text x="281" y="749" font-size="38.5">ecotourism</text></g>
<g id="node-ecosystem-services"><circle class="ng" cx="710" cy="1375" r="13"/><text x="709" y="1387" font-size="37">ecosystem services</text></g>
<g id="node-region"><circle class="nr" cx="1503" cy="1439" r="13"/><text x="1505" y="1451" font-size="36">region</text></g>
<g id="node-land"><circle class="ng" cx="1087" cy="1278" r="13"/><text x="1087" y="1291" font-size="38">land</text></g>
<g id="node-livelihoods"><circle class="ng" cx="625" cy="1094" r="13"/><text x="625" y="1106" font-size="36">livelihoods</text></g>
<g id="node-poverty"><circle class="ng" cx="461" cy="1293" r="13"/><text x="463" y="1305" font-size="36.5">poverty</text></g>
<g id="node-abundance"><circle class="nr" cx="2159" cy="682" r="13"/><text x="2162" y="694" font-size="36">abundance</text></g>
<g id="node-areas"><circle class="nr" cx="2228" cy="1260" r="13"/><text x="2230" y="1272" font-size="36">areas</text></g>
<g id="node-livestock"><circle class="nb" cx="1505" cy="149" r="13"/><text x="1510" y="161" font-size="36">livestock</text></g>
<g id="node-behavior"><circle class="nb" cx="1108" cy="158" r="13"/><text x="1110" y="170" font-size="36">behavior</text></g>
<g id="node-resources"><circle class="ng" cx="875" cy="1902" r="12"/><text x="875" y="1914" font-size="36">resources</text></g>
<g id="node-medicinal-plants"><circle class="nr" cx="1702" cy="1923" r="12"/><text x="1708" y="1935" font-size="36">medicinal-plants</text></g>
</svg>
